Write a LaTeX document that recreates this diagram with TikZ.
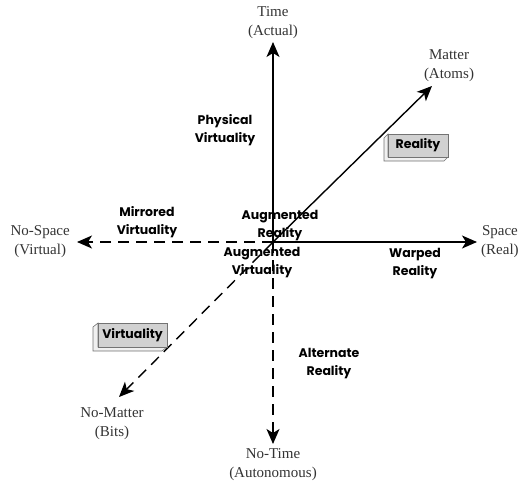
\documentclass[tikz,border=0pt]{standalone}
\usepackage{fontspec}
\setmainfont{Liberation Serif}
\newfontfamily\regionfont{Poppins}
\usetikzlibrary{arrows.meta,positioning,calc}

\begin{document}
\begin{tikzpicture}[
    x=1pt, y=-1pt,
    >={Stealth[length=15pt, width=13pt, inset=4pt]},
    axis_line/.style={->, line width=1.4pt, black},
    neg_line/.style={->, line width=1.4pt, black, dash pattern=on 11pt off 7pt},
    axis_lbl/.style={font=\fontsize{15}{19}\selectfont, align=center, text=black!80, inner sep=4pt},
    region_lbl/.style={font=\regionfont\bfseries\fontsize{12.5}{18}\selectfont, align=center, inner sep=0pt},
    box_face/.style={draw=black!55, fill=black!18, line width=0.6pt},
    box_side/.style={draw=black!55, fill=black!6, line width=0.6pt}
]
    \useasboundingbox (0,0) rectangle (523,483);

    % Axis end points
    \coordinate (O) at (273,242);
    \coordinate (T) at (273,42);
    \coordinate (S) at (477,242);
    \coordinate (NS) at (77,242);
    \coordinate (NT) at (273,444);
    \coordinate (M) at (432,86);
    \coordinate (NM) at (119,397);

    % Axes
    \draw[axis_line] (O) -- (T);
    \draw[axis_line] (O) -- (S);
    \draw[axis_line] (O) -- (M);
    \draw[neg_line] (O) -- (NS);
    \draw[neg_line] (O) -- (NT);
    \draw[neg_line] (O) -- (NM);

    % Axis labels
    \node[axis_lbl, anchor=south, inner sep=3pt] (timeL) at (T) {Time\\(Actual)};
    \node[axis_lbl, anchor=west] (spaceL) at (S) {Space\\(Real)};
    \node[axis_lbl, anchor=east, inner sep=7pt] (nospaceL) at (NS) {No-Space\\(Virtual)};
    \node[axis_lbl, anchor=north, inner sep=4pt] (notimeL) at (NT) {No-Time\\(Autonomous)};
    \node[axis_lbl] (matterL) at (449,66) {Matter\\(Atoms)};
    \node[axis_lbl] (nomatterL) at (112,424) {No-Matter\\(Bits)};

    % Regions
    \node[region_lbl] (physV) at (225,130) {Physical\\Virtuality};
    \node[region_lbl] (mirrV) at (147,222) {Mirrored\\Virtuality};
    \node[region_lbl] (augR) at (280,226) {Augmented\\Reality};
    \node[region_lbl] (augV) at (262,263) {Augmented\\Virtuality};
    \node[region_lbl] (warpR) at (415,264) {Warped\\Reality};
    \node[region_lbl] (altR) at (329,364) {Alternate\\Reality};

    % 3D boxes
    \draw[box_side] (388,134) -- (384,138) -- (384,161) -- (444,161) -- (448,157) -- (388,157) -- cycle;
    \draw[box_face] (388,134) rectangle (448,157);
    \node[region_lbl] (realB) at (418,145.5) {Reality};
    \draw[box_side] (98,323) -- (93,327) -- (93,351) -- (162,351) -- (167,347) -- (98,347) -- cycle;
    \draw[box_face] (98,323) rectangle (167,347);
    \node[region_lbl] (virtB) at (132.5,335) {Virtuality};
\end{tikzpicture}
\end{document}
